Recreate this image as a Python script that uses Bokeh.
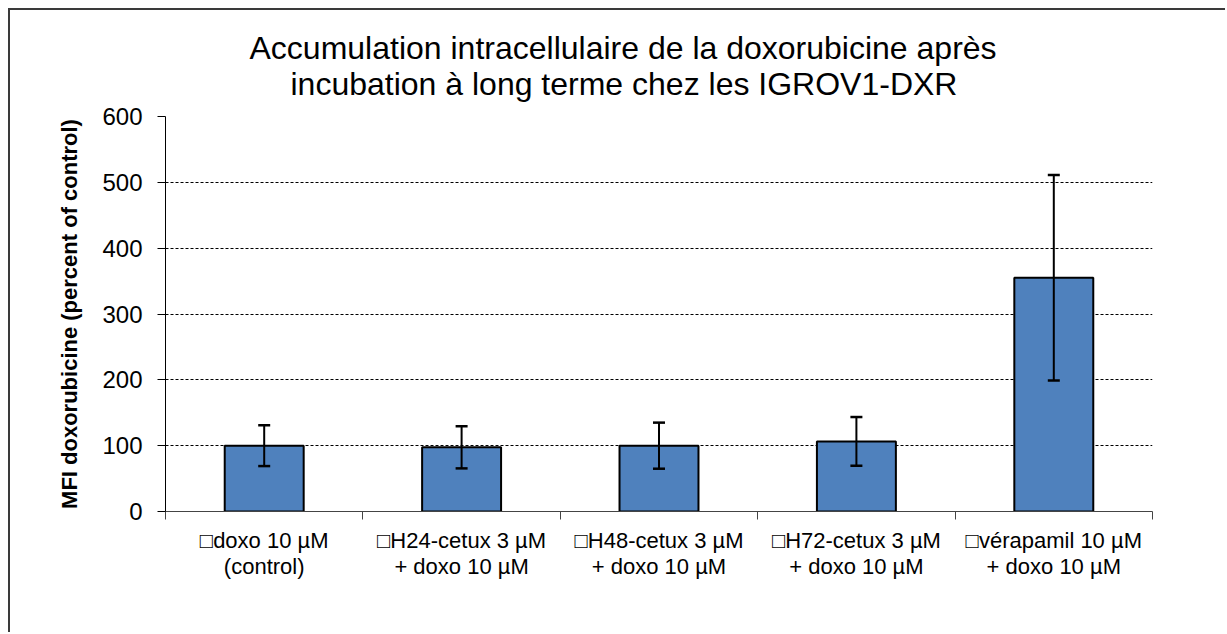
from bokeh.plotting import figure
from bokeh.models import FixedTicker, Whisker, ColumnDataSource, Title, Range1d, TeeHead
from bokeh.embed import file_html
from bokeh.resources import INLINE

categories = ["\u25a1doxo 10 \u00b5M\n(control)",
              "\u25a1H24-cetux 3 \u00b5M\n+ doxo 10 \u00b5M",
              "\u25a1H48-cetux 3 \u00b5M\n+ doxo 10 \u00b5M",
              "\u25a1H72-cetux 3 \u00b5M\n+ doxo 10 \u00b5M",
              "\u25a1v\u00e9rapamil 10 \u00b5M\n+ doxo 10 \u00b5M"]
values = [100, 97.5, 100, 106.5, 355]
errors = [31, 32, 35, 37, 156]
y_ticks = [0, 100, 200, 300, 400, 500, 600]
grid_ticks = [100, 200, 300, 400, 500]

xs = [i + 0.5 for i in range(len(categories))]
src = ColumnDataSource(dict(
    x=xs, top=values,
    upper=[v + e for v, e in zip(values, errors)],
    lower=[v - e for v, e in zip(values, errors)],
))

FONT = "Liberation Sans"

p = figure(width=1217, height=624, output_backend="svg", toolbar_location=None,
           x_range=Range1d(0, len(categories)), y_range=Range1d(0, 600),
           min_border_left=155, min_border_right=75, min_border_top=106,
           min_border_bottom=123)
p.styles = {"border-top": "2px solid #3a3a3a", "border-left": "2px solid #3a3a3a",
            "margin-left": "8px", "margin-top": "8px"}
p.outline_line_color = None
p.background_fill_color = "white"
p.border_fill_color = "white"

p.vbar(x="x", top="top", width=0.4, bottom=0, source=src,
       fill_color="#4F81BD", line_color="black", line_width=2)

w = Whisker(base="x", upper="upper", lower="lower", source=src, level="overlay",
            line_color="black", line_width=2,
            upper_head=TeeHead(size=12, line_width=2.5, line_color="black"),
            lower_head=TeeHead(size=12, line_width=2.5, line_color="black"))
p.add_layout(w)

# Titles (add second line first so it sits closer to the plot)
t2 = Title(text="incubation \u00e0 long terme chez les IGROV1-DXR", align="left",
           text_font=FONT, text_font_size="32px", text_font_style="normal",
           text_color="black", offset=125, standoff=29)
t1 = Title(text="Accumulation intracellulaire de la doxorubicine apr\u00e8s", align="left",
           text_font=FONT, text_font_size="32px", text_font_style="normal",
           text_color="black", offset=84, standoff=-32)
p.add_layout(t2, "above")
p.add_layout(t1, "above")

# y axis
yax = p.yaxis[0]
yax.ticker = FixedTicker(ticks=y_ticks, minor_ticks=[])
yax.axis_label = "MFI doxorubicine (percent of control)"
yax.axis_label_text_font = FONT
yax.axis_label_text_font_size = "22px"
yax.axis_label_text_font_style = "bold"
yax.axis_label_text_color = "black"
yax.axis_label_standoff = 17
yax.major_label_text_font = FONT
yax.major_label_text_font_size = "24px"
yax.major_label_text_color = "black"
yax.major_label_standoff = 15
yax.major_tick_out = 8
yax.major_tick_in = 0
yax.minor_tick_line_color = None
yax.axis_line_color = "black"
yax.major_tick_line_color = "black"

# x axis
xax = p.xaxis[0]
xax.ticker = FixedTicker(ticks=xs, minor_ticks=list(range(len(categories) + 1)))
xax.major_label_overrides = {x: c for x, c in zip(xs, categories)}
xax.major_label_text_font = FONT
xax.major_label_text_font_size = "22px"
xax.major_label_text_color = "black"
xax.major_label_text_line_height = 1.05
xax.major_label_standoff = 8
xax.major_tick_line_color = None
xax.major_tick_out = 0
xax.major_tick_in = 0
xax.minor_tick_out = 8
xax.minor_tick_in = 0
xax.minor_tick_line_color = "#444444"
xax.axis_line_color = "#444444"

p.xgrid.grid_line_color = None
p.ygrid.ticker = FixedTicker(ticks=grid_ticks)
p.ygrid.grid_line_color = "black"
p.ygrid.grid_line_dash = "3 2"
p.ygrid.grid_line_width = 1

open("out.html", "w").write(file_html(p, INLINE))
